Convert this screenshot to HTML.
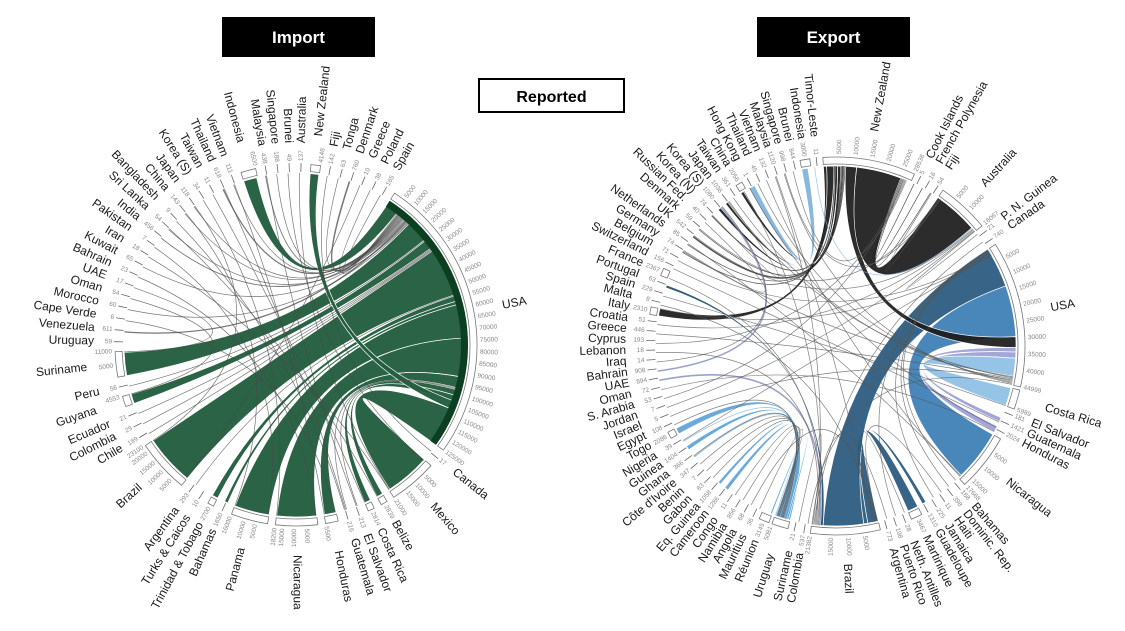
<!DOCTYPE html>
<html><head><meta charset="utf-8">
<style>
html,body{margin:0;padding:0;background:#fff;}
svg{display:block;font-family:"Liberation Sans",Arial,sans-serif;}
</style></head>
<body>
<svg id="chart" width="1125" height="631" viewBox="0 0 1125 631" xmlns="http://www.w3.org/2000/svg">
  <rect x="0" y="0" width="1125" height="631" fill="#fff"/>
  <g>
    <rect x="222" y="17" width="153" height="40" fill="#000"/>
    <text x="298.5" y="43" text-anchor="middle" fill="#fff" font-size="17" font-weight="bold">Import</text>
  </g>
  <g>
    <rect x="757" y="17" width="153" height="40" fill="#000"/>
    <text x="833.5" y="43" text-anchor="middle" fill="#fff" font-size="17" font-weight="bold">Export</text>
  </g>
  <g>
    <rect x="479" y="79" width="145" height="33" fill="#fff" stroke="#000" stroke-width="2"/>
    <text x="551.5" y="102" text-anchor="middle" fill="#000" font-size="16" font-weight="bold">Reported</text>
  </g>
  <g id="left"></g>
  <g id="right"></g>
</svg>
<script>
// ---------- IMPORT (left) data ----------
const importNames = ["USA","Canada","Mexico","Belize","Costa Rica","El Salvador","Guatemala","Honduras","Nicaragua","Panama","Bahamas","Trinidad & Tobago","Turks & Caicos","Argentina","Brazil","Chile","Colombia","Ecuador","Guyana","Peru","Suriname","Uruguay","Venezuela","Cape Verde","Morocco","Oman","UAE","Bahrain","Kuwait","Iran","Pakistan","India","Sri Lanka","Bangladesh","China","Japan","Korea (S)","Taiwan","Thailand","Vietnam","Indonesia","Malaysia","Singapore","Brunei","Australia","New Zealand","Fiji","Tonga","Denmark","Greece","Poland","Spain"];
const importValues = [125000,17,21000,2839,2814,213,216,5500,18200,16000,1650,2700,10,293,23100,189,29,21,4553,56,11000,59,611,6,60,54,17,23,65,18,7,456,54,9,143,118,34,11,618,111,6500,438,188,49,137,4148,142,63,760,10,38,165];
const importFlowSrc = ["Indonesia","Spain","Poland","Denmark","Tonga","Malaysia","Singapore","Thailand","Vietnam","China","Japan","India","Venezuela","Kuwait","Sri Lanka","Morocco","Suriname","Peru","Guyana","Ecuador","Colombia","Chile","Brazil","Argentina","Trinidad & Tobago","Bahamas","Panama","Nicaragua","Honduras","Guatemala","El Salvador","Costa Rica","Belize","New Zealand","Mexico","Fiji","Vietnam","China","Korea (S)","Thailand","Taiwan","Sri Lanka","Australia","Japan","Malaysia","Iran","Oman","UAE","Pakistan","Bahrain","Brunei","Greece","Cape Verde","Bangladesh"];
const importFlowTgt = ["USA","USA","USA","USA","USA","USA","USA","USA","USA","USA","USA","USA","USA","USA","USA","USA","USA","USA","USA","USA","USA","USA","USA","USA","USA","USA","USA","USA","USA","USA","USA","USA","USA","USA","USA","Canada","Honduras","Panama","Nicaragua","Guatemala","Costa Rica","Belize","Mexico","Brazil","El Salvador","Mexico","Guyana","Suriname","Panama","Nicaragua","Mexico","Brazil","Honduras","Guatemala"];
const importFlowVal = [6000,150,30,700,50,400,150,550,90,120,100,400,560,60,50,55,10500,50,4400,20,25,180,23000,280,2650,1600,15800,18000,5300,200,200,2700,2700,3900,20500,120,20,20,20,20,20,20,40,18,20,15,20,15,20,18,20,10,6,9];

// ---------- EXPORT (right) data ----------
const exportNames = ["New Zealand","Cook Islands","French Polynesia","Fiji","Australia","P. N. Guinea","Canada","USA","Costa Rica","El Salvador","Guatemala","Honduras","Nicaragua","Bahamas","Dominic. Rep.","Haiti","Jamaica","Guadeloupe","Martinique","Neth. Antilles","Puerto Rico","Argentina","Brazil","Colombia","Suriname","Uruguay","Réunion","Mauritius","Angola","Namibia","Congo","Cameroon","Eq. Guinea","Gabon","Benin","Côte d'Ivoire","Ghana","Guinea","Nigeria","Togo","Egypt","Israel","Jordan","S. Arabia","Oman","UAE","Bahrain","Iraq","Lebanon","Cyprus","Greece","Croatia","Italy","Malta","Spain","Portugal","France","Switzerland","Belgium","Germany","Netherlands","UK","Denmark","Russian Fed.","Korea (N)","Korea (S)","Japan","Taiwan","China","Hong Kong","Thailand","Vietnam","Malaysia","Singapore","Brunei","Indonesia","Timor-Leste"];
const exportValues = [28538,5,16,54,16067,21,740,44999,5989,181,1421,2024,17668,168,398,11,225,1310,3467,28,198,773,21382,537,21,5081,3145,36,68,856,11,1286,1058,83,7,347,366,1404,39,2086,108,5,7,53,72,894,908,14,18,193,446,51,2310,8,229,63,2367,156,71,74,85,542,59,40,74,1080,1036,361,2056,1,45,132,1120,998,844,3000,11];
const exportFlowSrc = ["Korea (S)","New Zealand","New Zealand","New Zealand","New Zealand","New Zealand","New Zealand","New Zealand","New Zealand","Brazil","Brazil","Brazil","Nicaragua","New Zealand","New Zealand","Guatemala","Honduras","Costa Rica","Uruguay","Uruguay","Uruguay","Uruguay","Uruguay","Uruguay","Uruguay","Portugal","Indonesia","Timor-Leste","UAE","Bahrain","New Zealand","New Zealand","New Zealand","Germany","UK","France","Japan","China","Netherlands","Spain","Switzerland","Greece","Croatia","Cyprus","Lebanon","Oman","Egypt","Israel","Jordan","S. Arabia","Taiwan","Hong Kong","Thailand","Vietnam","Malaysia","Singapore","Brunei","Canada","P. N. Guinea","Colombia","Suriname","Argentina","Puerto Rico","Jamaica","Haiti","Dominic. Rep.","Bahamas","Neth. Antilles","Benin","Ghana","Côte d'Ivoire","Gabon","Congo","Namibia","Angola","Mauritius","Russian Fed.","Denmark","Belgium","Malta","Iraq","Nigeria","Korea (N)","Fiji","Italy","Singapore","Malaysia"];
const exportFlowTgt = ["New Zealand","Italy","Korea (N)","Japan","China","Germany","UK","Denmark","Netherlands","Martinique","Guadeloupe","USA","USA","USA","Australia","USA","USA","USA","Togo","Guinea","Cameroon","Eq. Guinea","Réunion","Ghana","Nigeria","Brazil","Hong Kong","Australia","Brazil","Korea (S)","Cook Islands","French Polynesia","Fiji","USA","Australia","Brazil","USA","Brazil","Nicaragua","Costa Rica","Guatemala","USA","Australia","New Zealand","Brazil","Honduras","Uruguay","USA","Australia","New Zealand","USA","Honduras","USA","Nicaragua","Brazil","USA","New Zealand","Brazil","Australia","USA","Brazil","Brazil","USA","USA","Brazil","USA","USA","Brazil","Uruguay","Uruguay","Uruguay","Uruguay","Uruguay","Uruguay","Brazil","Uruguay","Germany","Australia","USA","Brazil","Korea (S)","USA","Japan","Australia","USA","Australia","Brazil"];
const exportFlowVal = [1000,2300,300,900,1000,70,500,60,80,3400,1300,13000,16500,3500,14500,1400,2000,5800,2000,1400,1250,1000,600,350,40,850,2000,60,500,500,5,16,54,30,30,30,30,30,30,30,30,30,30,30,30,30,30,5,7,30,30,1,30,30,30,30,30,30,21,30,21,30,30,30,11,30,30,28,7,30,30,30,11,30,30,36,30,30,30,8,14,39,30,30,30,30,30];

// ---------- generic chord renderer ----------
const NS = "http://www.w3.org/2000/svg";
function mk(tag, attrs, parent){
  const e = document.createElementNS(NS, tag);
  for (const k in attrs) e.setAttribute(k, attrs[k]);
  parent.appendChild(e);
  return e;
}
function pt(cx, cy, r, a){ const t = a*Math.PI/180; return [cx + r*Math.sin(t), cy - r*Math.cos(t)]; }

function chord(root, cfg){
  const {cx, cy, R, names, values, k, minExt, start, src, tgt, val} = cfg;
  const n = names.length;
  const ext = values.map(v => Math.max(minExt, v*k));
  const sum = ext.reduce((a,b)=>a+b,0);
  const gap = (360 - sum)/n;
  const ns = []; let cur = start;
  for (let i=0;i<n;i++){ ns.push(cur); cur += ext[i] + gap; }
  const used = new Array(n).fill(0);
  const idx = name => names.indexOf(name);
  const ribG = mk('g', {}, root);
  
  
  const thinG = mk('g', {}, root);
  
  
  const pxPerDeg = R*Math.PI/180;
  function alloc(i, w){
    let a0 = ns[i] + used[i];
    if (used[i] + w > ext[i] + 0.01) { a0 = ns[i] + ((used[i]) % ext[i]); used[i] += w; return [a0, Math.min(a0+w, ns[i]+ext[i])]; }
    used[i] += w;
    return [a0, a0 + w];
  }
  for (let f=0; f<src.length; f++){
    const a = idx(src[f]), b = idx(tgt[f]);
    if (a<0||b<0) continue;
    let w = val[f]*k;
    const thin = w*pxPerDeg < 1.6;
    const wa = thin ? Math.max(w, 0.35) : w;
    const A = alloc(a, wa), B = alloc(b, wa);
    const col = cfg.flowColor(src[f], tgt[f], thin);
    if (thin){
      const p = pt(cx,cy,R,(A[0]+A[1])/2), q = pt(cx,cy,R,(B[0]+B[1])/2);
      const ln = mk('path', {d:`M${p[0].toFixed(1)},${p[1].toFixed(1)} Q${cx},${cy} ${q[0].toFixed(1)},${q[1].toFixed(1)}`, fill:'none', stroke:col, 'stroke-width': Math.max(0.7, w*pxPerDeg), opacity:0.75}, thinG);
      
      
    } else {
      const p0=pt(cx,cy,R,A[0]), p1=pt(cx,cy,R,A[1]), q0=pt(cx,cy,R,B[0]), q1=pt(cx,cy,R,B[1]);
      const la = (A[1]-A[0])>180?1:0, lb=(B[1]-B[0])>180?1:0;
      const d = `M${p0[0].toFixed(1)},${p0[1].toFixed(1)} A${R},${R} 0 ${la} 1 ${p1[0].toFixed(1)},${p1[1].toFixed(1)} Q${cx},${cy} ${q0[0].toFixed(1)},${q0[1].toFixed(1)} A${R},${R} 0 ${lb} 1 ${q1[0].toFixed(1)},${q1[1].toFixed(1)} Q${cx},${cy} ${p0[0].toFixed(1)},${p0[1].toFixed(1)} Z`;
      const rb = mk('path', {d, fill:col, stroke:'#fff', 'stroke-width':0.7, opacity:cfg.ribbonOpacity}, ribG);
      
      
    }
  }
  const nodeG = mk('g', {}, root);
  
  
  for (let i=0;i<n;i++){
    const s = ns[i], e = ns[i]+ext[i], mid = (s+e)/2;
    const big = values[i] >= 4000;
    const g = mk('g', {}, nodeG);
    
    
    if (cfg.nodeStrip && cfg.nodeStrip[names[i]]){
      const r1=R-7, r2=R;
      const a=pt(cx,cy,r2,s), b=pt(cx,cy,r2,e), c=pt(cx,cy,r1,e), d=pt(cx,cy,r1,s);
      mk('path',{d:`M${a} A${r2},${r2} 0 0 1 ${b} L${c} A${r1},${r1} 0 0 0 ${d} Z`, fill:cfg.nodeStrip[names[i]]}, g);
    }
    if (ext[i] > minExt + 0.05){
      const r1=R+2, r2=R+9;
      const a=pt(cx,cy,r2,s), b=pt(cx,cy,r2,e), c=pt(cx,cy,r1,e), d=pt(cx,cy,r1,s);
      const lg = (e-s)>180?1:0;
      mk('path',{d:`M${a} A${r2},${r2} 0 ${lg} 1 ${b} L${c} A${r1},${r1} 0 ${lg} 0 ${d} Z`, fill:'#fff', stroke:'#777', 'stroke-width':0.8}, g);
    } else {
      const a=pt(cx,cy,R+1,mid), b=pt(cx,cy,R+10,mid);
      mk('line',{x1:a[0],y1:a[1],x2:b[0],y2:b[1],stroke:'#666','stroke-width':0.8}, g);
    }
    const tickVals = [];
    if (big){ for (let t=5000; t<values[i]-1500; t+=5000) tickVals.push(t); }
    tickVals.push(values[i]);
    tickVals.forEach(t=>{
      const ang = big ? s + t*k : mid;
      const a2 = ((ang%360)+360)%360;
      const p = pt(cx,cy,R+12,ang);
      const right = a2 < 180;
      const rot = right ? a2-90 : a2+90;
      const tx = mk('text',{x:p[0].toFixed(1), y:p[1].toFixed(1), 'font-size':6.5, fill:'#888', 'text-anchor': right?'start':'end', 'dominant-baseline':'middle', transform:`rotate(${rot.toFixed(1)} ${p[0].toFixed(1)} ${p[1].toFixed(1)})`}, g);
      tx.textContent = t;
    });
    const lr = R + (big ? 38 : 30);
    const ang = ((mid%360)+360)%360;
    const p = pt(cx,cy,lr,ang);
    const right = ang < 180;
    const rot = right ? ang-90 : ang+90;
    const lab = mk('text',{x:p[0].toFixed(1), y:p[1].toFixed(1), 'font-size':cfg.fontSize, fill:'#1a1a1a', 'text-anchor': right?'start':'end', 'dominant-baseline':'middle', transform:`rotate(${rot.toFixed(1)} ${p[0].toFixed(1)} ${p[1].toFixed(1)})`}, g);
    lab.textContent = names[i];
    
    
  }
}

chord(document.getElementById('left'), {
  cx:296, cy:345, R:172, names:importNames, values:importValues, k:0.00074, minExt:1.3, start:33,
  src:importFlowSrc, tgt:importFlowTgt, val:importFlowVal, ribbonOpacity:0.97, fontSize:12,
  nodeStrip:{"USA":"#0c3f22"},
  flowColor:(s,t,thin)=> thin ? '#4a4a4a' : '#245e3f'
});

const exportColor = {"New Zealand":"#1b1b1b","Brazil":"#28587d","Nicaragua":"#3a7db6","Costa Rica":"#8ebfe5","Guatemala":"#9c9fd6","Honduras":"#9c9fd6","Uruguay":"#5ea3d8","Portugal":"#1f4d6c","Indonesia":"#7fb3dd","Timor-Leste":"#7fb3dd","UAE":"#7b84b8","Bahrain":"#7b84b8","Korea (S)":"#1b1b1b"};
chord(document.getElementById('right'), {
  cx:836, cy:346, R:180, names:exportNames, values:exportValues, k:0.001, minExt:2.0, start:-4,
  src:exportFlowSrc, tgt:exportFlowTgt, val:exportFlowVal, ribbonOpacity:0.92, fontSize:12,
  flowColor:(s,t,thin)=> exportColor[s] ? exportColor[s] : '#555'
});
</script>
</body></html>
